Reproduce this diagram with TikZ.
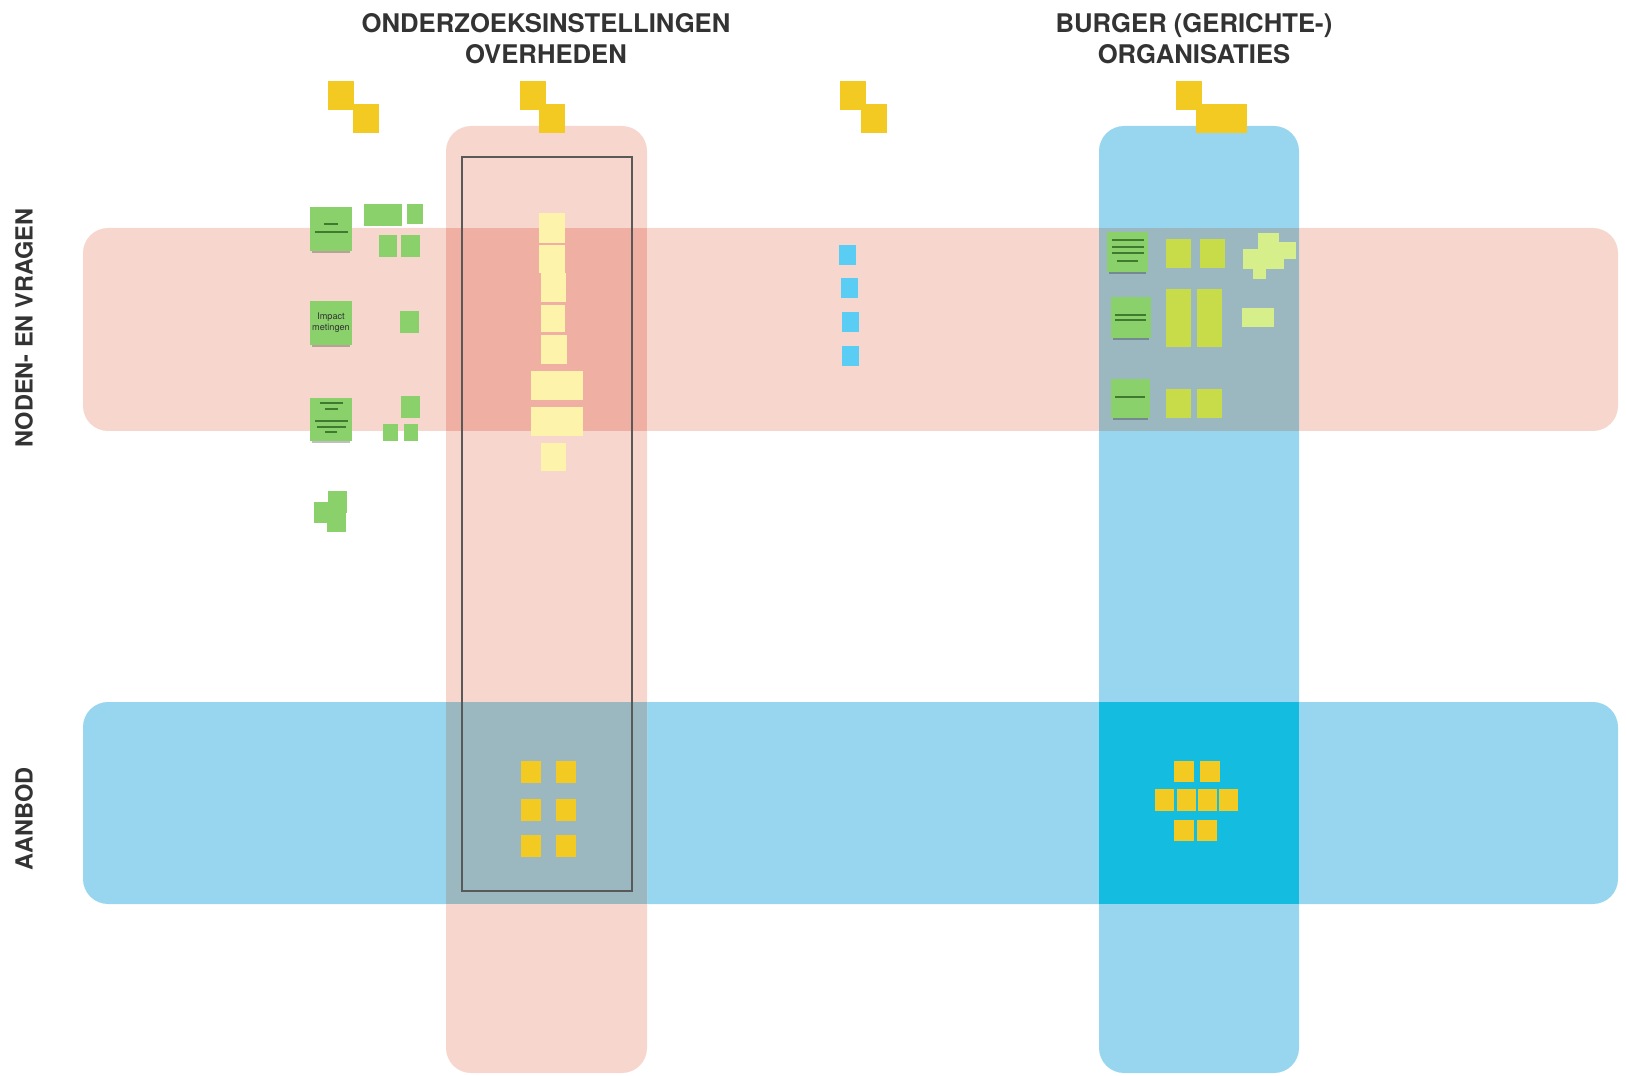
\documentclass[tikz,border=0pt]{standalone}
\usepackage{fontspec}
\setmainfont{TeX Gyre Heros}
\usetikzlibrary{positioning}

\definecolor{bandpink}{HTML}{F7D6CD}
\definecolor{bandblue}{HTML}{97D6EE}
\definecolor{pinkpink}{HTML}{EFB0A3}
\definecolor{pinkblue}{HTML}{9BB8C1}
\definecolor{blueblue}{HTML}{14BDE0}
\definecolor{postyellow}{HTML}{F3CA22}
\definecolor{paleyellow}{HTML}{FEF3AA}
\definecolor{postgreen}{HTML}{8AD06B}
\definecolor{inkgreen}{HTML}{3F7A30}
\definecolor{postlime}{HTML}{C8DB49}
\definecolor{palelime}{HTML}{D6EF8B}
\definecolor{postcyan}{HTML}{5ACDF4}

\tikzset{
  band/.style={rounded corners=0.25cm},
  header/.style={font=\bfseries\fontsize{7.3}{8.8}\selectfont, text=black!80, align=center, inner sep=0pt},
  sidelabel/.style={font=\bfseries\fontsize{6.7}{8}\selectfont, text=black!80, inner sep=0pt, rotate=90},
  yellownote/.style={fill=postyellow},
  palenote/.style={fill=paleyellow},
  greennote/.style={fill=postgreen},
  limenote/.style={fill=postlime},
  palelimenote/.style={fill=palelime},
  cyannote/.style={fill=postcyan},
  noteline/.style={draw=inkgreen, line width=0.55pt},
  shadow/.style={fill=black, opacity=0.25}
}

\begin{document}
\begin{tikzpicture}[x=0.01cm,y=-0.01cm]
\useasboundingbox (0,0) rectangle (1626,1076);

% bands
\fill[bandpink, band] (83,228) rectangle (1618,431);
\fill[bandblue, band] (83,702) rectangle (1618,904);
\fill[bandpink, band] (446,126) rectangle (647,1073);
\fill[bandblue, band] (1099,126) rectangle (1299,1073);

% crossings
\fill[pinkpink] (446,228) rectangle (647,431);
\fill[pinkblue] (446,702) rectangle (647,904);
\fill[pinkblue] (1099,228) rectangle (1299,431);
\fill[blueblue] (1099,702) rectangle (1299,904);

\draw[black!65, line width=0.4pt] (462,157) rectangle (632,891);

% headers
\node[header] (onderzoek) at (546,39) {ONDERZOEKSINSTELLINGEN\\OVERHEDEN};
\node[header] (burger) at (1194,39) {BURGER (GERICHTE-)\\ORGANISATIES};
\node[sidelabel] (noden) at (24,328) {NODEN- EN VRAGEN};
\node[sidelabel] (aanbod) at (24,819) {AANBOD};

% yellow pairs on top
\foreach \x/\xx in {328/353, 520/539, 840/861} {
  \fill[yellownote] (\x,81) rectangle ++(26,29);
  \fill[yellownote] (\xx,104) rectangle ++(26,29);
}
\fill[yellownote] (1176,81) rectangle (1202,110);
\fill[yellownote] (1196,104) rectangle (1247,133);

% green notes, left
\fill[shadow] (312,249) rectangle (350,253);
\fill[greennote] (310,207) rectangle (352,251);
\draw[noteline] (324,224) -- (338,224);
\draw[noteline] (315,232) -- (348,232);
\fill[greennote] (364,204) rectangle (402,226);
\fill[greennote] (407,204) rectangle (423,224);
\fill[greennote] (379,235) rectangle (397,257);
\fill[greennote] (401,235) rectangle (420,257);

\fill[shadow] (312,343) rectangle (350,347);
\fill[greennote] (310,301) rectangle (352,345);
\node[font=\fontsize{2.6}{3.2}\selectfont, align=center, text=black!80, inner sep=0pt] (impact) at (331,323) {Impact\\metingen};
\fill[greennote] (400,311) rectangle (419,333);

\fill[shadow] (312,439) rectangle (350,443);
\fill[greennote] (310,398) rectangle (352,441);
\draw[noteline] (320,403) -- (343,403);
\draw[noteline] (325,409) -- (338,409);
\draw[noteline] (315,421) -- (348,421);
\draw[noteline] (317,427) -- (346,427);
\draw[noteline] (325,432) -- (337,432);
\fill[greennote] (401,396) rectangle (420,418);
\fill[greennote] (383,424) rectangle (398,441);
\fill[greennote] (404,424) rectangle (418,441);

\fill[greennote] (328,491) rectangle (347,513);
\fill[greennote] (314,502) rectangle (328,523);
\fill[greennote] (327,512) rectangle (346,532);

% pale yellow stack
\fill[palenote] (539,213) rectangle (565,243);
\fill[palenote] (539,245) rectangle (565,273);
\fill[palenote] (541,273) rectangle (566,302);
\fill[palenote] (541,305) rectangle (565,332);
\fill[palenote] (541,335) rectangle (567,364);
\fill[palenote] (531,371) rectangle (583,400);
\fill[palenote] (531,407) rectangle (583,436);
\fill[palenote] (541,443) rectangle (566,471);

% cyan notes
\foreach \x/\y in {839/245, 841/278, 842/312, 842/346}
  \fill[cyannote] (\x,\y) rectangle ++(17,20);

% notes in the blue column
\fill[shadow] (1109,270) rectangle (1146,274);
\fill[greennote] (1107,232) rectangle (1148,272);
\draw[noteline] (1112,240) -- (1144,240);
\draw[noteline] (1112,247) -- (1144,247);
\draw[noteline] (1112,253) -- (1144,253);
\draw[noteline] (1117,261) -- (1138,261);
\fill[limenote] (1166,239) rectangle (1191,268);
\fill[limenote] (1200,239) rectangle (1225,268);
\fill[palelimenote] (1258,233) rectangle (1279,253);
\fill[palelimenote] (1279,242) rectangle (1296,259);
\fill[palelimenote] (1243,249) rectangle (1284,269);
\fill[palelimenote] (1253,269) rectangle (1266,279);

\fill[shadow] (1113,336) rectangle (1149,340);
\fill[greennote] (1111,297) rectangle (1151,338);
\draw[noteline] (1115,315) -- (1146,315);
\draw[noteline] (1115,320) -- (1146,320);
\fill[limenote] (1166,289) rectangle (1191,347);
\fill[limenote] (1197,289) rectangle (1222,347);
\fill[palelimenote] (1242,308) rectangle (1274,327);

\fill[shadow] (1113,416) rectangle (1148,420);
\fill[greennote] (1111,379) rectangle (1150,418);
\draw[noteline] (1115,397) -- (1145,397);
\fill[limenote] (1166,389) rectangle (1191,418);
\fill[limenote] (1197,389) rectangle (1222,418);

% yellow offers
\foreach \x in {521,556}
  \foreach \y in {761,799,835}
    \fill[yellownote] (\x,\y) rectangle ++(20,22);
\foreach \x in {1174,1200}
  \fill[yellownote] (\x,761) rectangle ++(20,21);
\foreach \x in {1155,1177,1198,1219}
  \fill[yellownote] (\x,789) rectangle ++(19,22);
\foreach \x in {1174,1197}
  \fill[yellownote] (\x,820) rectangle ++(20,21);
\end{tikzpicture}
\end{document}
